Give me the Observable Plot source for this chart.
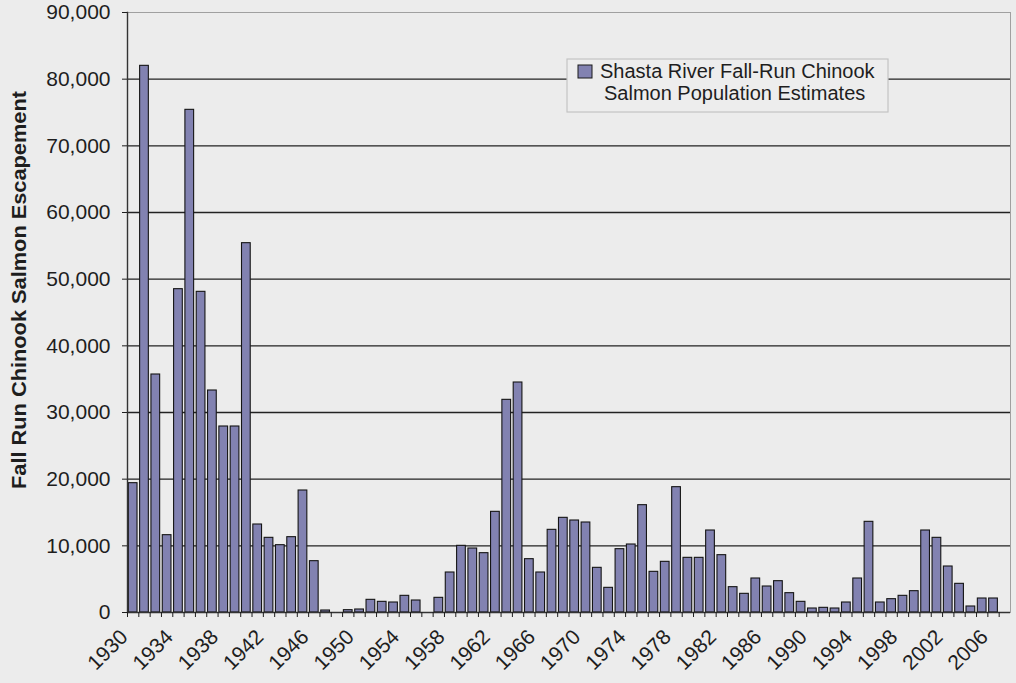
<!DOCTYPE html>
<html><head><meta charset="utf-8">
<script src="https://cdn.jsdelivr.net/npm/d3@7"></script>
<script src="https://cdn.jsdelivr.net/npm/@observablehq/plot@0.6"></script>
<style>
html,body{margin:0;padding:0;background:#ececec;}
#chart{position:relative;width:1016px;height:683px;}
</style></head><body><div id="chart"></div>
<script>
const years = [1930,1931,1932,1933,1934,1935,1936,1937,1938,1939,
  1940,1941,1942,1943,1944,1945,1946,1947,1948,1949,
  1950,1951,1952,1953,1954,1955,1956,1957,1958,1959,
  1960,1961,1962,1963,1964,1965,1966,1967,1968,1969,
  1970,1971,1972,1973,1974,1975,1976,1977,1978,1979,
  1980,1981,1982,1983,1984,1985,1986,1987,1988,1989,
  1990,1991,1992,1993,1994,1995,1996,1997,1998,1999,
  2000,2001,2002,2003,2004,2005,2006,2007];
const escapement = [19400,82000,35700,11600,48500,75400,48100,33300,27900,27900,
  55400,13200,11200,10100,11300,18300,7700,300,null,350,
  450,1900,1600,1500,2500,1800,null,2200,6000,10000,
  9600,8900,15100,31900,34500,8000,6000,12400,14200,13800,
  13500,6700,3700,9500,10200,16100,6100,7600,18800,8200,
  8200,12300,8600,3800,2800,5100,3900,4700,2900,1600,
  600,700,600,1500,5100,13600,1500,2000,2500,3200,
  12300,11200,6900,4300,900,2100,2100,null];
const tickYears = [1930,1934,1938,1942,1946,1950,1954,1958,1962,1966,1970,1974,1978,1982,1986,1990,1994,1998,2002,2006];
const yTicks = [0,10000,20000,30000,40000,50000,60000,70000,80000,90000];
const yTitle = "Fall Run Chinook Salmon Escapement";
const legendLines = ["Shasta River Fall-Run Chinook","Salmon Population Estimates"];

const data = years.map((year, i) => ({year, value: escapement[i]})).filter(d => d.value != null);
const barFill = "#8282b1";

const plot = Plot.plot({
  width: 1016, height: 683,
  marginLeft: 127, marginRight: 6, marginTop: 12, marginBottom: 71,
  style: {background: "#ececec", fontFamily: "'Liberation Sans', Arial, sans-serif", color: "#1e1e1e", overflow: "visible"},
  x: {type: "band", domain: years, paddingInner: 0.23, paddingOuter: 0.115, round: false},
  y: {domain: [0, 90000]},
  marks: [
    Plot.frame({stroke: "#a0a0a0"}),
    Plot.gridY(yTicks.filter(v => v > 0 && v < 90000), {stroke: "#222", strokeOpacity: 1, strokeWidth: 1.4}),
    Plot.barY(data, {x: "year", y: "value", fill: barFill, stroke: "#151515", strokeWidth: 1.1}),
    Plot.ruleY([0], {stroke: "#333", strokeWidth: 1.4}),
    Plot.frame({anchor: "left", stroke: "#333", strokeWidth: 1.4}),
    Plot.axisY({ticks: yTicks, tickFormat: d3.format(","), tickSize: 5, tickPadding: 12, fontSize: 21, label: null}),
    Plot.axisX({ticks: years, tickSize: 5, tickFormat: () => "", dx: -883 / 78 / 2, label: null}),
    Plot.axisX({ticks: tickYears, tickRotate: -45, tickSize: 0, tickPadding: 21, dx: -9, fontSize: 21, tickFormat: d => String(d), label: null})
  ]
});
document.getElementById("chart").appendChild(plot);

const svg = d3.select(plot);
svg.append("text")
  .attr("transform", "translate(26,290) rotate(-90)")
  .attr("text-anchor", "middle")
  .attr("font-size", 21).attr("font-weight", "bold")
  .attr("textLength", 398).attr("lengthAdjust", "spacingAndGlyphs")
  .attr("fill", "#1e1e1e")
  .text(yTitle);

const lg = svg.append("g").attr("text-anchor", "start");
lg.append("rect").attr("x", 567).attr("y", 59).attr("width", 321).attr("height", 53)
  .attr("fill", "#ededed").attr("stroke", "#c4c4c4").attr("stroke-width", 1.2);
lg.append("rect").attr("x", 578).attr("y", 65).attr("width", 14).attr("height", 13)
  .attr("fill", barFill).attr("stroke", "#1a1a1a").attr("stroke-width", 1);
legendLines.forEach((t, i) => {
  lg.append("text").attr("x", i === 0 ? 600 : 604).attr("y", 78 + i * 22)
    .attr("text-anchor", "start")
    .attr("font-size", 20).attr("fill", "#1e1e1e").text(t);
});
</script>
</body></html>
